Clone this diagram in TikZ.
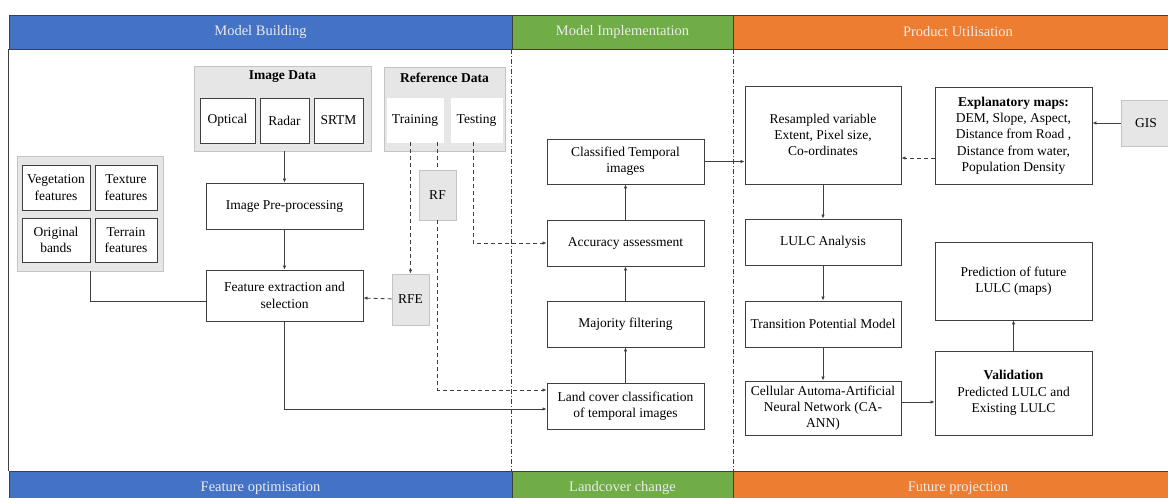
\documentclass[tikz,border=0pt]{standalone}
\usepackage{fontspec}
\setmainfont{Liberation Serif}
\usepackage{tikz}
\usetikzlibrary{positioning,arrows.meta}
\definecolor{hdblue}{HTML}{4472C4}
\definecolor{hdgreen}{HTML}{70AD47}
\definecolor{hdorange}{HTML}{ED7D31}
\definecolor{boxgrey}{HTML}{E6E6E6}
\definecolor{edgegrey}{HTML}{C4C4C4}
\definecolor{ink}{HTML}{3F3F3F}
\tikzset{proc/.style={draw=ink,fill=white,line width=0.9pt,align=center,inner sep=1pt,minimum width=157pt,minimum height=46pt},
  grp/.style={draw=edgegrey,fill=boxgrey,line width=0.9pt,inner sep=0pt},
  sub/.style={draw=ink,fill=white,line width=0.9pt,align=center,inner sep=1pt,minimum height=45pt},
  hdbar/.style={draw=ink,line width=0.7pt,text=white!92!black,minimum height=34pt,inner sep=0pt,font=\fontsize{14.5pt}{17pt}\selectfont},
  lane/.style={ink,line width=0.5pt,dash pattern=on 5pt off 2pt on 1pt off 2pt},
  link/.style={ink,line width=0.8pt},
  arr/.style={link,-{Latex[length=4pt,width=3.5pt]}},
  darr/.style={arr,dash pattern=on 4pt off 3pt},
  dlink/.style={link,dash pattern=on 4pt off 3pt}}

\begin{document}
\begin{tikzpicture}[x=1pt,y=-1pt,font=\fontsize{13.5pt}{16.3pt}\selectfont]
\useasboundingbox (0,0) rectangle (1168,498);
\node[hdbar,fill=hdblue,minimum width=503pt] (hdbuild) at (260.5,32) {Model Building};
\node[hdbar,fill=hdgreen,minimum width=221pt] (hdimpl) at (622.5,32) {Model Implementation};
\node[hdbar,fill=hdorange,minimum width=450pt] (hduse) at (958,32) {Product Utilisation};
\node[hdbar,fill=hdblue,minimum width=503pt] (ftopt) at (260.5,488) {Feature optimisation};
\node[hdbar,fill=hdgreen,minimum width=221pt] (ftland) at (622.5,488) {Landcover change};
\node[hdbar,fill=hdorange,minimum width=450pt] (ftproj) at (958,488) {Future projection};
\draw[ink,line width=0.9pt] (hdbuild.south west) -- (ftopt.north west);
\draw[lane] (hdimpl.south west) -- (ftland.north west);
\draw[lane] (hdimpl.south east) -- (ftland.north east);

\node[grp,minimum width=177pt,minimum height=85pt] (imgdata) at (282.5,108.5) {};
\node[font=\fontsize{13.5pt}{16pt}\selectfont\bfseries] (imgtitle) at (282.5,77) {Image Data};
\node[sub,minimum width=55pt] (optical) at (227.5,120.5) {Optical};
\node[sub,minimum width=49pt] (radar) at (284.5,120.5) {Radar};
\node[sub,minimum width=49pt] (srtm) at (338.5,120.5) {SRTM};

\node[grp,minimum width=121pt,minimum height=84pt] (refdata) at (444.5,109) {};
\node[font=\fontsize{13.5pt}{16pt}\selectfont\bfseries] (reftitle) at (444.5,78) {Reference Data};
\node[sub,draw=white,minimum width=56pt,minimum height=44pt] (training) at (415,120) {Training};
\node[sub,draw=white,minimum width=51pt,minimum height=44pt] (testing) at (476.5,120) {Testing};

\node[grp,minimum width=146pt,minimum height=115pt] (featgrp) at (90,213.5) {};
\node[sub,minimum width=68pt] (veg) at (56,187.5) {Vegetation\\features};
\node[sub,minimum width=62pt] (texture) at (126,187.5) {Texture\\features};
\node[sub,minimum width=68pt,minimum height=44pt] (orig) at (56,240) {Original\\bands};
\node[sub,minimum width=62pt,minimum height=44pt] (terrain) at (126,240) {Terrain\\features};

\node[proc] (preproc) at (284.5,206) {Image Pre-processing};
\node[proc,minimum height=51pt] (featsel) at (284.5,295.5) {Feature extraction and\\selection};
\node[grp,draw=edgegrey,minimum width=37pt,minimum height=51pt] (rfe) at (410.5,299.5) {RFE};
\node[grp,draw=edgegrey,minimum width=37pt,minimum height=50pt] (rf) at (437.5,195) {RF};

\node[proc,minimum height=45pt] (classif) at (625.5,161.5) {Classified Temporal\\images};
\node[proc] (accuracy) at (625.5,243) {Accuracy assessment};
\node[proc] (majority) at (625.5,324) {Majority filtering};
\node[proc] (landcover) at (625.5,406) {Land cover classification\\of temporal images};

\node[proc,minimum width=156pt,minimum height=98pt] (resamp) at (823,135) {Resampled variable\\Extent, Pixel size,\\Co-ordinates};
\node[proc,minimum height=97pt] (explan) at (1013.5,135.5) {\textbf{Explanatory maps:}\\DEM, Slope, Aspect,\\Distance from Road ,\\Distance from water,\\Population Density};
\node[grp,draw=edgegrey,minimum width=50pt,minimum height=46pt] (gis) at (1146,123) {GIS};
\node[proc,minimum width=156pt] (lulc) at (823,242) {LULC Analysis};
\node[proc,minimum height=78pt] (predict) at (1013.5,281) {Prediction of future\\LULC (maps)};
\node[proc,minimum width=156pt] (transit) at (823,324) {Transition Potential Model};
\node[proc,minimum width=156pt,minimum height=54pt] (cellular) at (823,408) {Cellular Automa-Artificial\\Neural Network (CA-\\ANN)};
\node[proc,minimum height=84pt] (valid) at (1013.5,393) {\textbf{Validation}\\Predicted LULC and\\Existing LULC};

\draw[arr] (imgdata.south -| preproc.north) -- (preproc.north);
\draw[arr] (preproc) -- (featsel);
\draw[link] (featgrp.south) |- ([yshift=-5.5pt]featsel.west);
\draw[darr] (rfe) -- (featsel);
\draw[darr] (rfe.north |- training.south) -- (rfe.north);
\draw[dlink] (rf.north |- training.south) -- (rf.north);
\draw[darr] (rf.south) |- ([yshift=16pt]landcover.west);
\draw[arr] (featsel.south) |- ([yshift=-3pt]landcover.west);
\draw[darr] ([xshift=-3.5pt]testing.south) |- (accuracy.west);
\draw[arr] (landcover) -- (majority);
\draw[arr] (majority) -- (accuracy);
\draw[arr] (accuracy) -- (classif);
\draw[arr] (classif.east) -- (resamp.west |- classif.east);
\coordinate (exin) at ([yshift=-22.5pt]explan.west);
\draw[darr] (exin) -- (exin -| resamp.east);
\draw[arr] (gis.west) -- (gis.west -| explan.east);
\draw[arr] (resamp) -- (lulc);
\draw[arr] (lulc) -- (transit);
\draw[arr] (transit) -- (cellular);
\coordinate (caout) at ([yshift=6pt]cellular.east);
\draw[arr] (caout) -- (caout -| valid.west);
\draw[arr] (valid) -- (predict);
\end{tikzpicture}
\end{document}
